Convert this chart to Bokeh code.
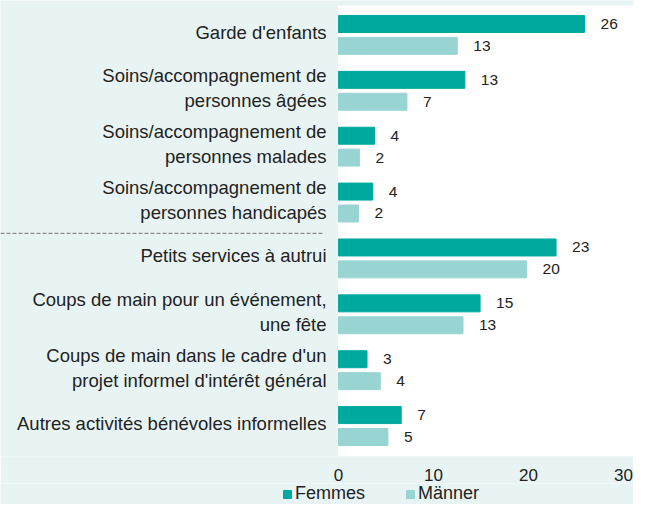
from bokeh.plotting import figure
from bokeh.layouts import column
from bokeh.models import Range1d, FixedTicker, BoxAnnotation, Legend, LegendItem
from bokeh.core.properties import value
from bokeh.embed import file_html
from bokeh.resources import INLINE

# ---- data ----
categories = [
    "Garde d'enfants",
    "Soins/accompagnement de\npersonnes âgées",
    "Soins/accompagnement de\npersonnes malades",
    "Soins/accompagnement de\npersonnes handicapés",
    "Petits services à autrui",
    "Coups de main pour un événement,\nune fête",
    "Coups de main dans le cadre d'un\nprojet informel d'intérêt général",
    "Autres activités bénévoles informelles",
]
femmes = [25.9, 13.3, 3.8, 3.6, 22.9, 14.9, 3.0, 6.6]
maenner = [12.5, 7.2, 2.2, 2.1, 19.8, 13.1, 4.4, 5.2]
femmes_labels = ["26", "13", "4", "4", "23", "15", "3", "7"]
maenner_labels = ["13", "7", "2", "2", "20", "13", "4", "5"]
series_names = ["Femmes", "Männer"]
xticks = [0, 10, 20, 30]
separator_after = 3

# ---- style ----
FONT_NAME = "Liberation Sans"
FONT = value(FONT_NAME)
C_F = "#00A99D"
C_M = "#98D5D2"
BG = "#E8F4F4"
TXT = "#222222"
DODGE = 0.196
BAR_H = 0.304
W = 633

rows = list(range(len(categories)))
y_f = [r - DODGE for r in rows]
y_m = [r + DODGE for r in rows]

X_START, X_END = -35.58, 31.05
Y_BOTTOM, Y_TOP = 7.545, -0.616
p = figure(width=W, height=483, output_backend="svg", toolbar_location=None,
           x_range=Range1d(X_START, X_END), y_range=Range1d(Y_BOTTOM, Y_TOP))
p.yaxis.visible = False
p.min_border_left = 0
p.min_border_right = 0
p.min_border_top = 0
p.min_border_bottom = 26
p.background_fill_color = BG
p.border_fill_color = BG
p.outline_line_color = None
p.xgrid.visible = False
p.ygrid.visible = False

p.add_layout(BoxAnnotation(left=-0.05, right=X_END + 1, bottom=Y_BOTTOM - 0.01,
                           top=-0.527, fill_color="white", fill_alpha=1.0,
                           line_color=None, level="underlay"))

rf = p.hbar(y=y_f, left=0, right=femmes, height=BAR_H, fill_color=C_F,
            line_color=C_F)
rm = p.hbar(y=y_m, left=0, right=maenner, height=BAR_H, fill_color=C_M,
            line_color=C_M)

p.text(x=femmes, y=y_f, text=femmes_labels, x_offset=16, text_align="left",
       text_baseline="middle", text_font=FONT, text_font_size="15.5px",
       text_color=TXT)
p.text(x=maenner, y=y_m, text=maenner_labels, x_offset=16, text_align="left",
       text_baseline="middle", text_font=FONT, text_font_size="15.5px",
       text_color=TXT)

p.text(x=[0] * len(rows), y=rows, text=categories, x_offset=-12, y_offset=-2.5,
       text_align="right", text_baseline="middle", text_font=FONT,
       text_font_size="18.5px", text_color=TXT, text_line_height=1.2)

sep_y = separator_after + 0.55
p.line(x=[X_START, -1.7], y=[sep_y, sep_y], line_color="#8a8a8a",
       line_width=1.3, line_dash="4 2")

xa = p.xaxis[0]
xa.ticker = FixedTicker(ticks=xticks)
xa.axis_line_color = None
xa.major_tick_line_color = None
xa.minor_tick_line_color = None
xa.major_label_text_font = FONT_NAME
xa.major_label_text_font_size = "17px"
xa.major_label_text_color = TXT
xa.major_label_standoff = 6

# ---- legend strip ----
lg = figure(width=W, height=21, output_backend="svg", toolbar_location=None,
            x_range=Range1d(0, 1), y_range=Range1d(0, 1),
            x_axis_location=None, y_axis_location=None)
lg.min_border_left = 0
lg.min_border_right = 0
lg.min_border_top = 0
lg.min_border_bottom = 0
lg.background_fill_color = BG
lg.border_fill_color = BG
lg.outline_line_color = None
lg.xgrid.visible = False
lg.ygrid.visible = False
# legend-only renderers, placed outside the visible range
lf = lg.hbar(y=[-5], left=[0], right=[1], height=0.5, fill_color=C_F, line_color=C_F)
lm = lg.hbar(y=[-5], left=[0], right=[1], height=0.5, fill_color=C_M, line_color=C_M)

legend = Legend(items=[LegendItem(label=series_names[0], renderers=[lf]),
                       LegendItem(label=series_names[1], renderers=[lm])],
                orientation="horizontal", location=(282, 0))
legend.glyph_width = 10
legend.glyph_height = 10
legend.label_standoff = 3
legend.spacing = 40
legend.padding = 0
legend.margin = 0
legend.label_text_font = FONT_NAME
legend.label_text_font_size = "18px"
legend.label_text_color = TXT
legend.label_height = 20
legend.background_fill_alpha = 0
legend.border_line_color = None
lg.add_layout(legend)

layout = column(p, lg, spacing=0)
open("out.html", "w").write(file_html(layout, INLINE))
